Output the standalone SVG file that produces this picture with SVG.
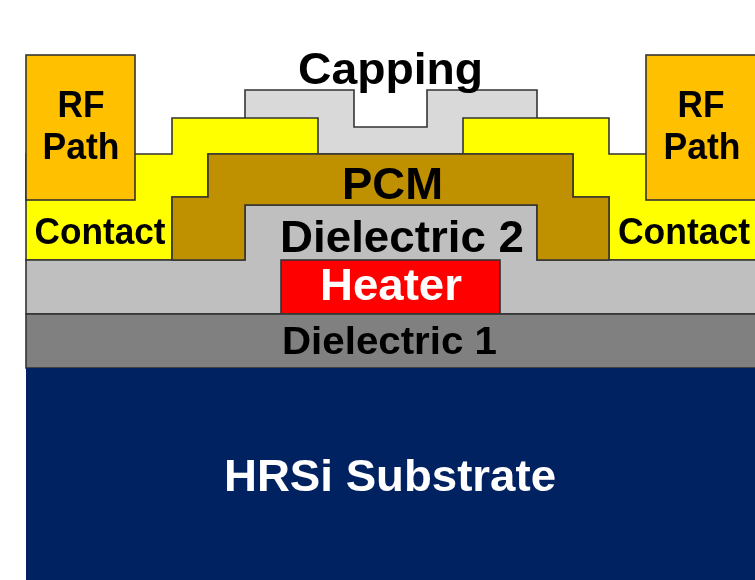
<svg xmlns="http://www.w3.org/2000/svg" width="755" height="580" viewBox="0 0 755 580">
<style>
.l{stroke:#333;stroke-width:1.6;stroke-linejoin:miter}
text{font-family:"Liberation Sans",Arial,sans-serif;font-weight:700;text-anchor:middle;fill:#000}
.w{fill:#fff}
</style>
<defs><filter id="soft" x="-5%" y="-5%" width="110%" height="110%"><feGaussianBlur stdDeviation="0.6"/></filter></defs>
<rect width="755" height="580" fill="#fff"/>
<g filter="url(#soft)">
<g id="capping"><path class="l" fill="#d9d9d9" d="M245 154V90H354V127H427V90H537V154Z"/><text x="390.5" y="84" font-size="45" textLength="185" lengthAdjust="spacingAndGlyphs">Capping</text></g>
<g id="contact-left"><path class="l" fill="#ffff00" d="M26 260V154H135H172V118H318V154H208V197H172V260Z"/><text x="100" y="244" font-size="36" textLength="131" lengthAdjust="spacingAndGlyphs">Contact</text></g>
<g id="contact-right"><path class="l" fill="#ffff00" d="M756 260V154H609V118H463V154H573V197H609V260Z"/><text x="684" y="244" font-size="36" textLength="132" lengthAdjust="spacingAndGlyphs">Contact</text></g>
<g id="dielectric-2"><path class="l" fill="#bfbfbf" d="M26 314V260H245V205H537V260H756V314Z"/><text x="402" y="252" font-size="44" textLength="244" lengthAdjust="spacingAndGlyphs">Dielectric 2</text></g>
<g id="pcm"><path class="l" fill="#bf9000" d="M172 260V197H208V154H573V197H609V260H537V205H245V260Z"/><text x="392.5" y="199" font-size="44" textLength="101" lengthAdjust="spacingAndGlyphs">PCM</text></g>
<g id="rf-left"><rect class="l" fill="#ffc000" x="26" y="55" width="109" height="145"/><text x="81" y="117" font-size="37" textLength="47" lengthAdjust="spacingAndGlyphs">RF</text><text x="81" y="159" font-size="37" textLength="77" lengthAdjust="spacingAndGlyphs">Path</text></g>
<g id="rf-right"><rect class="l" fill="#ffc000" x="646" y="55" width="110" height="145"/><text x="701" y="117" font-size="37" textLength="47" lengthAdjust="spacingAndGlyphs">RF</text><text x="702" y="159" font-size="37" textLength="77" lengthAdjust="spacingAndGlyphs">Path</text></g>
<g id="heater"><rect class="l" fill="#ff0000" x="281" y="260" width="219" height="54"/><text class="w" x="391" y="300" font-size="45" textLength="142" lengthAdjust="spacingAndGlyphs">Heater</text></g>
<g id="dielectric-1"><rect class="l" fill="#808080" x="26" y="314" width="730" height="54"/><text x="389.5" y="354" font-size="39" textLength="215" lengthAdjust="spacingAndGlyphs">Dielectric 1</text></g>
<g id="substrate"><rect fill="#002060" x="26" y="368" width="730" height="213"/><text class="w" x="390" y="491" font-size="45" textLength="332" lengthAdjust="spacingAndGlyphs">HRSi Substrate</text></g>
</g>
</svg>
